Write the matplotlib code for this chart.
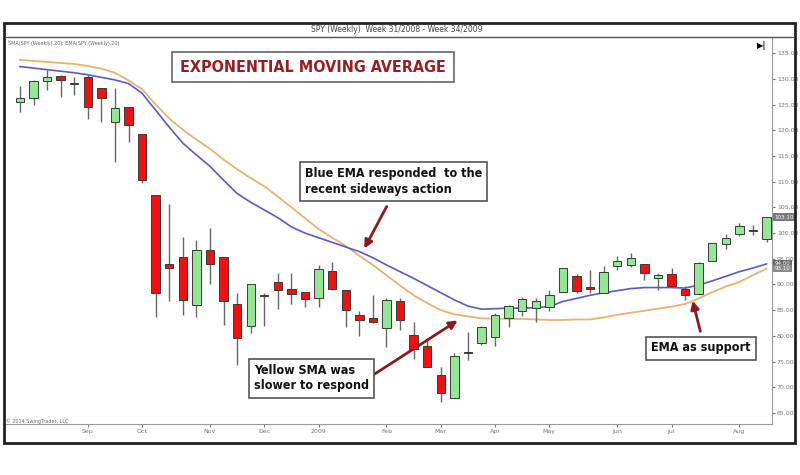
import matplotlib
matplotlib.use('Agg')
import matplotlib.pyplot as plt
from matplotlib import font_manager
from matplotlib.patches import Rectangle
from matplotlib.lines import Line2D

# weekly SPY candles, week 31/2008 .. week 34/2009
opens  = [125.6, 126.2, 129.6, 130.6, 129.0, 130.3, 128.2, 121.7, 124.6, 119.3,
          107.4, 93.9, 95.4, 86.0, 96.8, 95.3, 86.3, 81.9, 87.7, 90.4,
          89.1, 88.5, 87.3, 92.6, 88.9, 84.1, 83.5, 81.5, 86.8, 80.2,
          78.0, 72.4, 67.9, 76.8, 78.6, 79.8, 83.4, 84.9, 85.5, 85.7,
          88.6, 91.7, 89.6, 88.3, 93.6, 93.8, 93.9, 91.2, 92.0, 89.1,
          88.2, 94.6, 97.9, 99.8, 100.5, 98.8]
highs  = [128.6, 129.8, 131.7, 130.7, 130.4, 130.8, 128.2, 128.2, 124.6, 119.3,
          107.4, 105.7, 99.2, 98.7, 100.9, 95.3, 88.4, 90.1, 88.3, 92.3,
          92.3, 88.5, 93.8, 94.4, 88.9, 84.9, 88.0, 87.3, 87.3, 82.8,
          79.5, 73.9, 76.6, 80.8, 82.0, 84.4, 86.0, 87.6, 87.3, 88.9,
          93.3, 92.0, 92.8, 93.6, 95.5, 96.1, 93.9, 92.2, 93.2, 89.7,
          94.3, 98.1, 99.8, 102.0, 101.6, 103.1]
lows   = [123.6, 124.9, 127.8, 126.5, 126.9, 122.1, 121.7, 113.9, 117.8, 109.7,
          83.7, 86.7, 84.1, 83.7, 90.1, 82.1, 74.3, 80.5, 81.9, 85.2,
          86.3, 85.6, 85.6, 88.9, 81.8, 80.0, 82.5, 77.8, 81.1, 75.6,
          74.0, 67.2, 67.9, 75.3, 78.3, 78.0, 81.7, 83.9, 82.8, 84.9,
          88.5, 88.3, 88.3, 88.3, 92.8, 93.5, 90.9, 88.9, 89.7, 87.0,
          88.2, 94.6, 97.0, 99.4, 99.6, 98.3]
closes = [126.3, 129.6, 130.3, 129.8, 129.1, 124.6, 126.2, 124.3, 121.0, 110.3,
          88.4, 93.2, 87.0, 96.8, 93.9, 86.7, 79.5, 90.1, 87.9, 88.9,
          88.2, 87.1, 93.0, 89.1, 85.0, 83.1, 82.8, 87.0, 83.0, 77.4,
          74.0, 68.8, 76.1, 76.7, 81.7, 84.1, 85.8, 87.1, 86.7, 88.0,
          93.2, 88.8, 89.1, 92.5, 94.6, 95.1, 92.2, 91.8, 89.7, 88.0,
          94.2, 98.1, 99.0, 101.4, 100.6, 103.1]

# 20 week EMA (blue) and SMA (yellow)
ema = [132.4, 132.1, 131.8, 131.5, 131.2, 130.8, 130.3, 129.8, 129.1, 127.2,
       123.9, 120.6, 117.5, 115.2, 113.0, 110.3, 107.7, 106.0, 104.5, 103.0,
       101.2, 100.0, 99.1, 98.2, 97.3, 96.4, 95.2, 93.8, 92.5, 91.2,
       89.8, 88.4, 87.0, 85.8, 85.2, 85.3, 85.4, 85.4, 85.5, 85.7,
       86.7, 87.3, 87.9, 88.4, 88.8, 89.2, 89.4, 89.4, 89.4, 89.3,
       89.9, 90.7, 91.6, 92.5, 93.2, 94.0]
sma = [133.7, 133.5, 133.3, 133.1, 132.9, 132.5, 132.0, 131.2, 129.7, 128.0,
       125.0, 122.3, 120.1, 118.2, 116.4, 114.3, 112.4, 110.7, 109.1, 107.1,
       105.0, 102.9, 100.8, 99.1, 97.5, 95.6, 93.8, 91.8, 89.8, 87.9,
       86.4, 85.0, 84.2, 83.8, 83.4, 83.4, 83.3, 83.3, 83.2, 83.1,
       83.1, 83.2, 83.2, 83.6, 84.1, 84.5, 84.9, 85.3, 85.7, 86.2,
       87.3, 88.5, 89.6, 90.5, 91.8, 93.1]

month_idx = [5, 9, 14, 18, 22, 27, 31, 35, 39, 44, 48, 53]
month_labels = ['Sep', 'Oct', 'Nov', 'Dec', '2009', 'Feb', 'Mar', 'Apr',
                'May', 'Jun', 'Jul', 'Aug']
price_ticks = list(range(65, 140, 5))

# look for a narrow bold face for the captions
narrow = None
for f in font_manager.fontManager.ttflist:
    tag = (f.name + ' ' + f.fname).lower()
    if ('narrow' in tag or 'condensed' in tag or f.stretch in ('condensed', 'semi-condensed')) \
            and f.weight in (600, 700, 'bold', 'semibold') and 'mono' not in tag \
            and 'serif' not in tag.replace('sans', ''):
        narrow = font_manager.FontProperties(fname=f.fname)
        break
if narrow is None:
    narrow = font_manager.FontProperties(family='DejaVu Sans', weight='bold')
    big, small = 10.5, 8.0
else:
    big, small = 11.5, 9.0

W, H = 800, 475
def fp(x, y):
    # pixel position (from top left) -> figure fraction
    return (x / W, 1 - y / H)

fig = plt.figure(figsize=(8, 4.75), dpi=100)

# outer frame and header
fig.patches.append(Rectangle(fp(4, 443), 791 / W, 420 / H, transform=fig.transFigure,
                             fill=False, ec='#222222', lw=2))
fig.lines.append(Line2D([5 / W, 794 / W], [fp(0, 37)[1]] * 2, transform=fig.transFigure,
                        color='#555555', lw=1))
fig.text(*fp(397, 30), 'SPY (Weekly)  Week 31/2008 - Week 34/2009', fontsize=5.5,
         color='#444444', ha='center', va='center')

ax = fig.add_axes([5 / W, 1 - 424 / H, 767 / W, 387 / H])
ax.set_xlim(-1.1, 55.4)
ax.set_ylim(62.86, 138.15)

x = list(range(len(opens)))
ax.plot(x, sma, color='#E9B36F', lw=1.3, zorder=2)
ax.plot(x, ema, color='#5A5AC6', lw=1.2, zorder=2)

for i in x:
    o, h, l, c = opens[i], highs[i], lows[i], closes[i]
    up = c >= o
    ax.vlines(i, l, h, color='#666666', lw=1, zorder=3)
    body = max(abs(c - o), 0.12)
    ax.bar(i, body, bottom=min(o, c), width=0.62, zorder=4,
           color='#93E893' if up else '#F01010', edgecolor='#3a3a3a', lw=0.7)

for s in ['left', 'top']:
    ax.spines[s].set_visible(False)
for s in ['right', 'bottom']:
    ax.spines[s].set_color('#999999')
    ax.spines[s].set_linewidth(0.8)

ax.yaxis.tick_right()
ax.set_yticks(price_ticks)
ax.set_yticklabels([f'{v:.2f}' for v in price_ticks])
ax.set_xticks(month_idx)
ax.set_xticklabels(month_labels)
ax.tick_params(labelsize=4.5, colors='#777777', length=2, pad=1.5)

# last value labels on the price axis
for val, fc in [(closes[-1], '#7a7a7a'), (ema[-1], '#6a6a6a'), (sma[-1], '#8a8a8a')]:
    ax.annotate(f'{val:.2f}', xy=(1, val), xycoords=('axes fraction', 'data'),
                xytext=(2, 0), textcoords='offset points', fontsize=4, color='white',
                va='center', ha='left',
                bbox=dict(boxstyle='square,pad=0.25', fc=fc, ec='none'))

fig.text(*fp(8, 43), 'SMA(SPY (Weekly),20); EMA(SPY (Weekly),20)', fontsize=3.5,
         color='#666666', va='center')
fig.text(*fp(6, 421), '\u00a9 2014 SwingTrader, LLC', fontsize=3.5, color='#666666',
         va='center')
fig.text(*fp(762, 45), '\u25b6|', fontsize=6, color='black', ha='center', va='center',
         fontweight='bold')

# captions
fig.text(*fp(313, 67), 'EXPONENTIAL MOVING AVERAGE', fontproperties=narrow,
         fontsize=big, color='#9B1C20', ha='center', va='center',
         bbox=dict(boxstyle='square,pad=0.5', fc='white', ec='#666666', lw=1.2))

box = dict(boxstyle='square,pad=0.4', fc='white', ec='#555555', lw=1.2)
fig.text(*fp(305, 181), 'Blue EMA responded  to the\nrecent sideways action',
         fontproperties=narrow, fontsize=small, color='#111111', ha='left', va='center',
         linespacing=1.3, bbox=box)
fig.text(*fp(254, 378), 'Yellow SMA was\nslower to respond', fontproperties=narrow,
         fontsize=small, color='#111111', ha='left', va='center',
         linespacing=1.3, bbox=box)
fig.text(*fp(701, 348), 'EMA as support', fontproperties=narrow,
         fontsize=small, color='#111111', ha='center', va='center', bbox=box)

arrow = dict(arrowstyle='-|>', color='#8B1A1A', lw=2, mutation_scale=12)
for start, end in [((388, 204), (363, 251)), ((370, 377), (460, 319)),
                   ((701, 334), (692, 298))]:
    ax.annotate('', xy=fp(*end), xycoords='figure fraction',
                xytext=fp(*start), textcoords='figure fraction', arrowprops=arrow)

fig.savefig('out.png', dpi=100)
